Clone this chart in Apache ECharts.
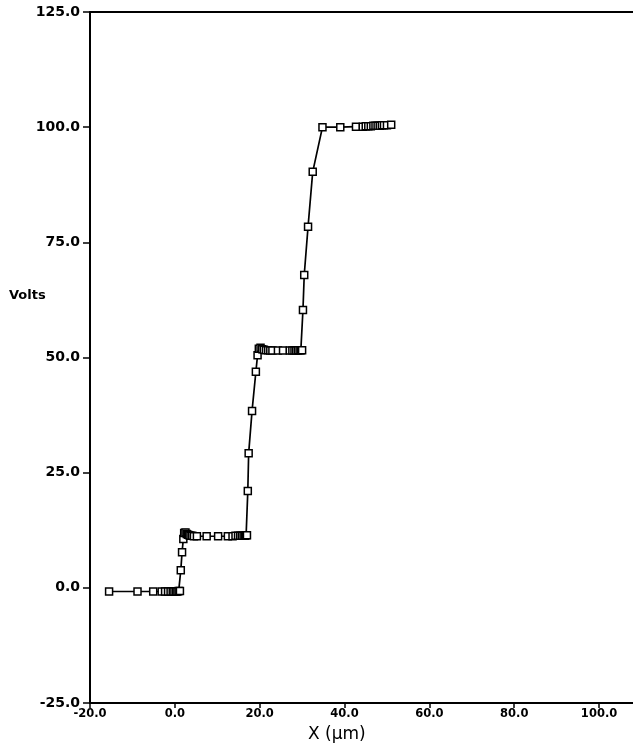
<!DOCTYPE html>
<html>
<head>
<meta charset="utf-8">
<script src="https://cdn.jsdelivr.net/npm/echarts@6/dist/echarts.min.js"></script>
<style>html,body{margin:0;padding:0;background:#fff}#c{width:633px;height:752px}</style>
</head>
<body>
<div id="c"></div>
<script>
// X positions (µm)
var xValues = [
  -15.5, -8.8, -5.1, -3.1, -2.3, -1.6, -1.0, -0.5, -0.1, 0.3, 0.6, 0.9, 1.2,
  1.4, 1.7, 2.0, 2.2, 2.5, 2.8, 3.1, 3.4, 3.7, 4.1, 4.5, 5.2, 7.5, 10.2, 12.5,
  13.6, 14.3, 14.9, 15.4, 15.8, 16.2, 16.5, 16.8, 17.0,
  17.2, 17.4, 18.2, 19.1, 19.5, 19.8, 20.2,
  20.6, 21.0, 21.5, 22.0, 22.5, 23.0, 24.3, 25.5, 27.1, 27.7, 28.2, 28.6, 29.0, 29.4, 29.7, 30.0,
  30.2, 30.5, 31.4, 32.5, 34.8,
  39.0, 42.7, 44.3, 45.0, 45.6, 46.2, 46.8, 47.3, 47.8, 48.3, 48.8, 49.3, 50.0, 51.0
];
// Voltage (V)
var voltValues = [
  -0.8, -0.8, -0.8, -0.8, -0.8, -0.8, -0.8, -0.8, -0.8, -0.8, -0.8, -0.7, -0.7,
  3.8, 7.7, 10.6, 11.9, 12.0, 11.7, 11.5, 11.4, 11.3, 11.3, 11.2, 11.2, 11.2, 11.2, 11.2,
  11.2, 11.3, 11.3, 11.3, 11.3, 11.3, 11.3, 11.4, 11.4,
  21.0, 29.2, 38.4, 46.9, 50.5, 51.9, 52.1,
  51.8, 51.7, 51.6, 51.6, 51.5, 51.5, 51.5, 51.5, 51.5, 51.5, 51.5, 51.5, 51.6, 51.6, 51.6, 51.6,
  60.3, 67.9, 78.4, 90.3, 100.0,
  100.0, 100.1, 100.1, 100.2, 100.2, 100.2, 100.3, 100.3, 100.3, 100.3, 100.4, 100.4, 100.4, 100.5
];
var xTickLabels = ['-20.0', '0.0', '20.0', '40.0', '60.0', '80.0', '100.0'];
var yTickLabels = ['-25.0', '0.0', '25.0', '50.0', '75.0', '100.0', '125.0'];

var pts = xValues.map(function (x, i) { return [x, voltValues[i]]; });
var font = 'DejaVu Sans';
var chart = echarts.init(document.getElementById('c'), null, { renderer: 'canvas' });
chart.setOption({
  animation: false,
  backgroundColor: '#fff',
  grid: { left: 90, right: 0, top: 12, bottom: 49, containLabel: false },
  xAxis: [{
    type: 'value', min: -20, max: 108, interval: 20, position: 'bottom',
    axisLine: { show: true, onZero: false, lineStyle: { color: '#000', width: 2 } },
    axisTick: { show: true, length: 5, inside: false, lineStyle: { color: '#000', width: 1.5 } },
    splitLine: { show: false },
    axisLabel: {
      color: '#000', fontFamily: font, fontWeight: 'bold', fontSize: 11.5, margin: 5,
      showMaxLabel: false,
      formatter: function (v) { var i = Math.round((v + 20) / 20); return (Math.abs((v + 20) / 20 - i) < 1e-6 && xTickLabels[i]) ? xTickLabels[i] : ''; }
    }
  }, {
    type: 'value', min: -20, max: 108, position: 'top',
    axisLine: { show: true, onZero: false, lineStyle: { color: '#000', width: 2 } },
    axisTick: { show: false }, axisLabel: { show: false }, splitLine: { show: false }
  }],
  yAxis: {
    type: 'value', min: -25, max: 125, interval: 25,
    axisLine: { show: true, onZero: false, lineStyle: { color: '#000', width: 2 } },
    axisTick: { show: true, length: 7, inside: false, lineStyle: { color: '#000', width: 1.5 } },
    splitLine: { show: false },
    axisLabel: {
      color: '#000', fontFamily: font, fontWeight: 'bold', fontSize: 14, margin: 10,
      formatter: function (v) { var i = Math.round((v + 25) / 25); return yTickLabels[i] || ''; }
    }
  },
  graphic: [
    { type: 'text', left: 9, top: 289, style: { text: 'Volts', fill: '#000', font: 'bold 13px "DejaVu Sans"' } },
    { type: 'text', left: 308, top: 726, style: { text: 'X (μm)', fill: '#000', font: '17px "DejaVu Sans"' } }
  ],
  series: [{
    type: 'line', xAxisIndex: 0, data: pts,
    symbol: 'rect', symbolSize: 7, showAllSymbol: true,
    lineStyle: { color: '#000', width: 1.7 },
    itemStyle: { color: '#fff', borderColor: '#000', borderWidth: 1.5 }
  }]
});
</script>
</body>
</html>
